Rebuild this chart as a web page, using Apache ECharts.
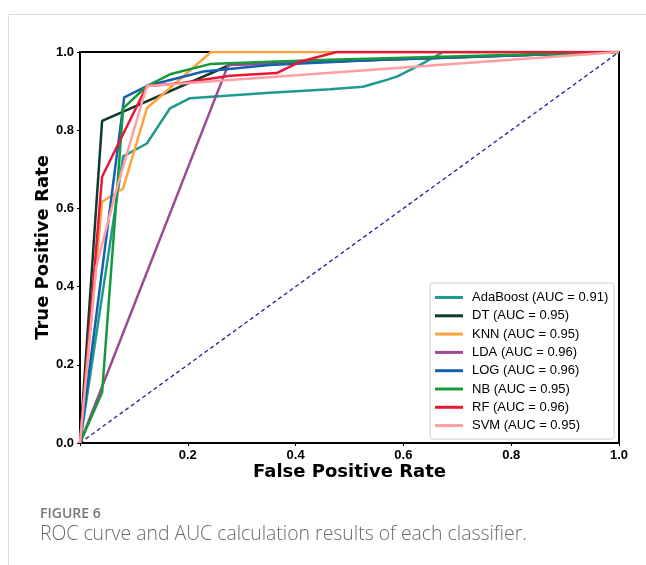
<!DOCTYPE html>
<html><head><meta charset="utf-8">
<script src="https://cdn.jsdelivr.net/npm/echarts@6/dist/echarts.min.js"></script>
<style>html,body{margin:0;padding:0;background:#fff}#c{width:646px;height:565px}</style>
</head><body><div id="c"></div>
<script>
const seriesNames = ['AdaBoost (AUC = 0.91)','DT (AUC = 0.95)','KNN (AUC = 0.95)','LDA (AUC = 0.96)','LOG (AUC = 0.96)','NB (AUC = 0.95)','RF (AUC = 0.96)','SVM (AUC = 0.95)'];
const adaFpr = [0, 0.08, 0.124, 0.167, 0.204, 0.352, 0.464, 0.525, 0.56, 0.588, 0.631, 0.674, 1];
const adaTpr = [0, 0.733, 0.766, 0.856, 0.882, 0.896, 0.905, 0.911, 0.925, 0.937, 0.967, 1.0, 1.0];
const dtFpr = [0, 0.041, 0.28, 1];
const dtTpr = [0, 0.824, 0.968, 1];
const knnFpr = [0, 0.041, 0.08, 0.124, 0.243, 1];
const knnTpr = [0, 0.617, 0.651, 0.856, 1, 1];
const ldaFpr = [0, 0.275, 1];
const ldaTpr = [0, 0.967, 1];
const logFpr = [0, 0.082, 0.124, 0.229, 0.352, 0.557, 1];
const logTpr = [0, 0.884, 0.913, 0.95, 0.967, 0.98, 1];
const nbFpr = [0, 0.041, 0.08, 0.124, 0.167, 0.241, 0.352, 0.464, 1];
const nbTpr = [0, 0.129, 0.856, 0.913, 0.943, 0.969, 0.975, 0.98, 1];
const rfFpr = [0, 0.041, 0.124, 0.186, 0.278, 0.365, 0.408, 0.476, 1];
const rfTpr = [0, 0.681, 0.913, 0.92, 0.939, 0.946, 0.975, 1, 1];
const svmFpr = [0, 0.03, 0.07, 0.124, 1];
const svmTpr = [0, 0.45, 0.66, 0.913, 1];
const diagFpr = [0, 1];
const diagTpr = [0, 1];
const yTicks = [0, 0.2, 0.4, 0.6, 0.8, 1.0];
const xTicks = [0.2, 0.4, 0.6, 0.8, 1.0];

const colors = ['#1f9a8e','#0d3b2b','#ffa23e','#9c4a94','#1461ae','#16993a','#e8173a','#ff9fa3'];
const fprs = [adaFpr, dtFpr, knnFpr, ldaFpr, logFpr, nbFpr, rfFpr, svmFpr];
const tprs = [adaTpr, dtTpr, knnTpr, ldaTpr, logTpr, nbTpr, rfTpr, svmTpr];
const zip = (a, b) => a.map((v, i) => [v, b[i]]);

const series = [{
  type: 'line', data: zip(diagFpr, diagTpr), symbol: 'none', silent: true,
  lineStyle: { color: '#1c1c9c', width: 1.3, type: [4, 3] }, z: 1
}];
seriesNames.forEach((n, i) => {
  series.push({
    name: n, type: 'line', data: zip(fprs[i], tprs[i]), symbol: 'none',
    lineStyle: { color: colors[i], width: 2.5 }, itemStyle: { color: colors[i] }, z: 2 + i
  });
});

const chart = echarts.init(document.getElementById('c'), null, { renderer: 'canvas' });
chart.setOption({
  animation: false,
  backgroundColor: '#fff',
  grid: { left: 80, right: 27, top: 52, bottom: 122, show: true, borderColor: '#000', borderWidth: 2, backgroundColor: 'transparent' },
  xAxis: {
    type: 'value', min: 0, max: 1, interval: 0.2,
    name: 'False Positive Rate', nameLocation: 'middle', nameGap: 29, nameMoveOverlap: false,
    nameTextStyle: { fontFamily: 'DejaVu Sans', fontWeight: 'bold', fontSize: 18, color: '#000', verticalAlign: 'middle' },
    axisLine: { show: true, lineStyle: { color: '#000', width: 2 } },
    axisTick: { show: true, length: 3, lineStyle: { color: '#000' } },
    splitLine: { show: false },
    axisLabel: { fontFamily: 'Liberation Sans', fontWeight: 'bold', fontSize: 13, color: '#000', margin: 6,
      formatter: v => xTicks.some(t => Math.abs(t - v) < 1e-9) ? v.toFixed(1) : '' }
  },
  yAxis: {
    type: 'value', min: 0, max: 1, interval: 0.2,
    name: 'True Positive Rate', nameLocation: 'middle', nameGap: 37, nameMoveOverlap: false,
    nameTextStyle: { fontFamily: 'DejaVu Sans', fontWeight: 'bold', fontSize: 18, color: '#000', verticalAlign: 'middle' },
    axisLine: { show: true, lineStyle: { color: '#000', width: 2 } },
    axisTick: { show: true, length: 3, lineStyle: { color: '#000' } },
    splitLine: { show: false },
    axisLabel: { fontFamily: 'Liberation Sans', fontWeight: 'bold', fontSize: 13, color: '#000', margin: 6,
      formatter: v => yTicks.some(t => Math.abs(t - v) < 1e-9) ? v.toFixed(1) : '' }
  },
  legend: {
    data: seriesNames, orient: 'vertical', left: 430, top: 283,
    itemWidth: 28, itemHeight: 3, itemGap: 3.3, icon: 'rect',
    padding: [7, 6, 6, 5], borderColor: '#d0d0d0', borderWidth: 1, borderRadius: 3,
    backgroundColor: '#fff',
    textStyle: { fontFamily: 'Liberation Sans', fontSize: 13, color: '#000', lineHeight: 15, padding: [0, 0, 0, 4] }
  },
  graphic: [
    { type: 'line', shape: { x1: 8, y1: 14.5, x2: 646, y2: 14.5 }, style: { stroke: '#dcdcdc', lineWidth: 1 } },
    { type: 'line', shape: { x1: 8.5, y1: 14, x2: 8.5, y2: 565 }, style: { stroke: '#dcdcdc', lineWidth: 1 } },
    { type: 'text', left: 40, top: 507, style: { text: 'FIGURE 6', fill: '#777', font: '600 14px "Open Sans"' } },
    { type: 'text', left: 40, top: 525, style: { text: 'ROC curve and AUC calculation results of each classifier.', fill: '#6a6a6a', font: '300 19.4px "Open Sans"' } }
  ],
  series: series
});
</script></body></html>
